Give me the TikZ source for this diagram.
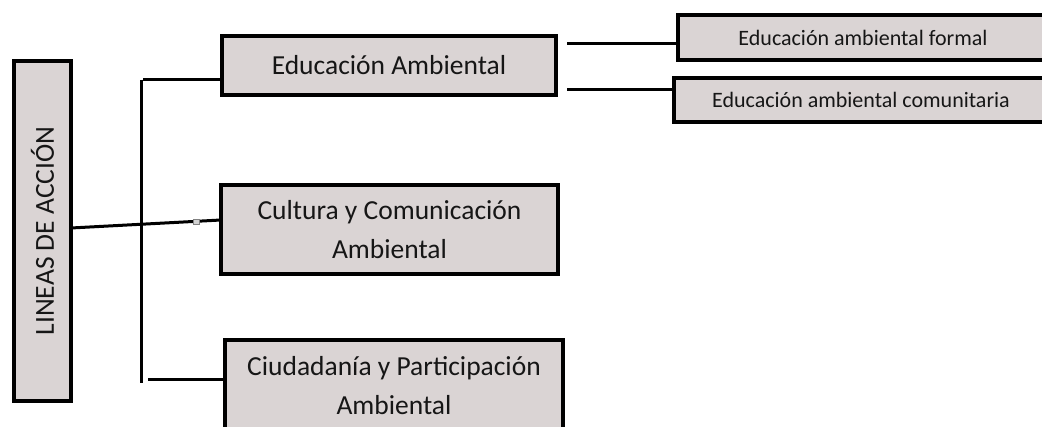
\documentclass[tikz,border=0pt]{standalone}
\usepackage{fontspec}
\setmainfont{Carlito}
\definecolor{boxfill}{RGB}{218,212,212}
\definecolor{ink}{RGB}{22,22,22}
\begin{document}
\begin{tikzpicture}[x=1pt,y=-1pt,
  box/.style={draw=black, line width=4pt, fill=boxfill, inner sep=0pt, outer sep=0pt, text=ink, align=center},
  bigtxt/.style={font=\fontsize{27.5}{39}\selectfont},
  smalltxt/.style={font=\fontsize{22}{26}\selectfont},
  conn/.style={line width=3pt, draw=black}]
\useasboundingbox (0,0) rectangle (1042,427);
\clip (0,0) rectangle (1042,427);
\fill[white] (0,0) rectangle (1042,427);
% nodes
\node[box, bigtxt, minimum width=57pt, minimum height=340pt] (L) at (42.5,231) {\rotatebox{90}{LINEAS DE ACCIÓN}};
\node[box, bigtxt, minimum width=334pt, minimum height=59pt] (ea) at (389,65.5) {Educación Ambiental};
\node[box, bigtxt, minimum width=337pt, minimum height=89pt] (cult) at (389.5,229.5) {Cultura y Comunicación\\Ambiental};
\node[box, bigtxt, minimum width=338pt, minimum height=92pt] (ciud) at (394,386) {Ciudadanía y Participación\\Ambiental};
\node[box, smalltxt, minimum width=370pt, minimum height=45pt] (formal) at (863,37.5) {Educación ambiental formal};
\node[box, smalltxt, minimum width=374pt, minimum height=44pt] (com) at (861,100) {Educación ambiental comunitaria};
% connectors
\draw[conn] ([yshift=3pt]L.east) -- ([yshift=9.5pt]cult.west);
\coordinate (vt) at (141,80);
\coordinate (vb) at (141,383);
\draw[conn] (vt) -- (vb);
\coordinate (ht) at (143,80);
\draw[conn] (ht) -- (ht -| ea.west);
\coordinate (hb) at (148,380);
\draw[conn] (hb) -- (hb -| ciud.west);
\coordinate (f1) at (567,44);
\draw[conn] (f1) -- (f1 -| formal.west);
\coordinate (f2) at (567,90);
\draw[conn] (f2) -- (f2 -| com.west);
% small artifact on the main connector
\draw[gray, fill=gray!35, line width=0.6pt] (193,219) rectangle (199,224);
\end{tikzpicture}
\end{document}
